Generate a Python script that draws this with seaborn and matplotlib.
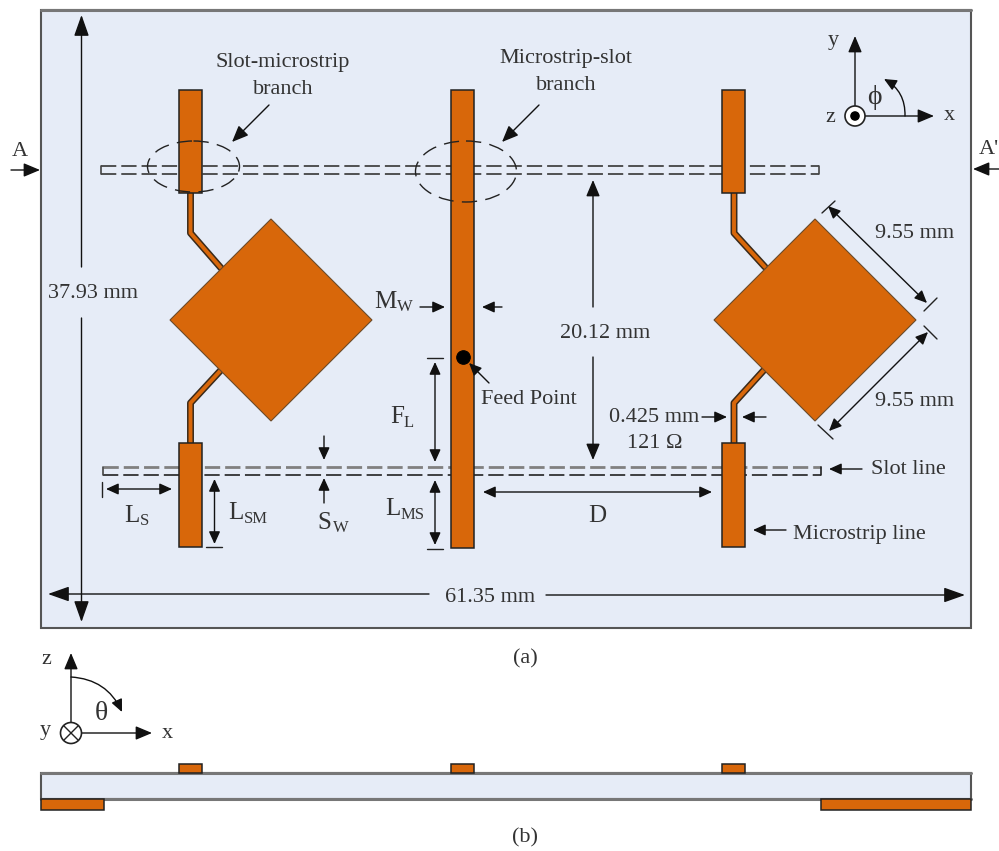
import matplotlib
matplotlib.use('Agg')
import matplotlib.pyplot as plt
from matplotlib.patches import Rectangle, Polygon, Ellipse, Circle, FancyArrowPatch
import seaborn as sns

sns.set_theme(style="white")
plt.rcParams['font.family'] = ['Liberation Serif', 'DejaVu Sans']

# all geometry below is in reference pixels
ORANGE = '#D8670A'
BOARD = '#E6ECF7'
INK = '#333333'

board_top = (41, 10, 930, 618)
board_side = (41, 773, 930, 26)
strips = [(179, 90, 22.5, 103), (179, 443, 22.5, 104), (451, 90, 23, 458),
          (722, 90, 23, 103), (722, 443, 23, 104)]
side_strips = [(179, 764, 23, 9), (451, 764, 23, 9), (722, 764, 23, 9),
               (41, 799, 63, 11), (821, 799, 150, 11)]
diamonds = [[(271, 219), (372, 320), (271, 421), (170, 320)],
            [(815, 219), (916, 320), (815, 421), (714, 320)]]
feeds = [([190.5, 190.5, 221], [193, 233, 268]), ([190.5, 190.5, 221], [443, 403, 370]),
         ([734, 734, 765], [193, 233, 267]), ([734, 734, 764], [443, 403, 370])]
ellipses = [(193.5, 166.5, 92, 51), (466, 171.5, 101, 61)]
upper_slot = ([101, 819], [165.5, 174])
lower_slot = ([103, 821], [466.5, 474.5])
feed_point = ([463], [357])

big_arrows = [((81.5, 267), (81.5, 15)), ((81.5, 318), (81.5, 622)),
              ((429, 594), (48, 594)), ((546, 595), (965, 595))]
mid_arrows = [((269, 105), (232, 142)), ((539, 105), (502, 142)),
              ((855, 115), (855, 36)), ((865, 116), (934, 116)),
              ((11, 170), (40, 170)), ((999, 169), (973, 169)),
              ((593, 307), (593, 180)), ((593, 357), (593, 460)),
              ((71, 722), (71, 653)), ((82, 733), (152, 733))]
small_arrows = [((420, 307), (445, 307)), ((502, 307), (482, 307)),
                ((324, 436), (324, 460)), ((324, 503), (324, 478)),
                ((489, 383), (469, 363)), ((702, 417), (727, 417)),
                ((766, 417), (742, 417)), ((862, 469), (829, 469)),
                ((786, 530), (753, 530))]
double_arrows = [((828, 206), (927, 303)), ((928, 332), (829, 431)),
                 ((435, 362), (435, 462)), ((435, 480), (435, 545)),
                 ((106, 489), (172, 489)), ((214.5, 479), (214.5, 544)),
                 ((483, 492), (712, 492))]
ticks = [((822, 213), (835, 201)), ((924, 311), (937, 298)), ((924, 326), (937, 339)),
         ((818, 425), (833, 439)), ((427, 358), (443, 358)), ((427, 549), (443, 549)),
         ((101.5, 482), (101.5, 497)), ((206, 547), (222, 547))]

labels = [("Slot-microstrip", 283, 63), ("branch", 283, 90), ("Microstrip-slot", 566, 58),
          ("branch", 566, 85), ("A", 20, 152), ("37.93 mm", 93, 293), ("y", 833, 40),
          ("z", 830, 118), ("x", 949, 115), ("9.55 mm", 915, 234),
          ("9.55 mm", 915, 401), ("20.12 mm", 605, 334), ("Feed Point", 529, 399),
          ("0.425 mm", 654, 417), ("121 \u03a9", 655, 443), ("Slot line", 908, 470),
          ("Microstrip line", 859, 534), ("61.35 mm", 490, 597), ("(a)", 525, 659),
          ("(b)", 525, 838), ("z", 46, 660), ("y", 45, 730), ("x", 167, 734)]
greek_labels = [("\u03d5", 874, 97), ("\u03b8", 101, 714)]
# name, left, baseline, subscript, left, baseline
sub_labels = [("M", 374, 308, "W", 397, 311), ("F", 390, 423, "L", 404, 427),
              ("L", 124, 522, "S", 140, 525), ("L", 228, 519, "SM", 244, 523),
              ("S", 317, 529, "W", 333, 532), ("L", 385, 515, "MS", 401, 519),
              ("D", 588, 522, "", 0, 0)]


def line(ax, xs, ys, color, width, **kw):
    sns.lineplot(x=xs, y=ys, ax=ax, color=color, linewidth=width, sort=False,
                 estimator=None, errorbar=None, legend=False, **kw)


def arrow(ax, p0, p1, head, style='-|>', width=1.0):
    s = f'{style},head_length={head[0]},head_width={head[1]}'
    ax.add_patch(FancyArrowPatch(p0, p1, arrowstyle=s, mutation_scale=1, shrinkA=0, shrinkB=0,
                                 color='#111111', linewidth=width, zorder=8))


def dashed(ax, xs, y, color, width):
    # dash pattern is scaled by line width, so divide to keep about 15px on, 5px off
    pattern = (0, (11 / width, 3.6 / width))
    line(ax, xs, [y, y], color, width, linestyle=pattern, zorder=2)


fig = plt.figure(figsize=(9.99, 8.51), dpi=100)
ax = fig.add_axes([0, 0, 1, 1])

for rect in (board_top, board_side):
    ax.add_patch(Rectangle(rect[:2], rect[2], rect[3], facecolor=BOARD, edgecolor='#555555', linewidth=1.5, zorder=1))
# top edges print a bit lighter and heavier
line(ax, [41, 971], [10, 10], '#777777', 2.2, zorder=2)
line(ax, [41, 971], [773, 773], '#777777', 2.2, zorder=2)
line(ax, [41, 971], [799, 799], '#777777', 2.2, zorder=2)

dashed(ax, upper_slot[0], upper_slot[1][0], '#444444', 1.3)
dashed(ax, upper_slot[0], upper_slot[1][1], '#444444', 1.3)
dashed(ax, lower_slot[0], lower_slot[1][0], '#808080', 2.0)
dashed(ax, lower_slot[0], lower_slot[1][1], '#222222', 1.2)
line(ax, [upper_slot[0][0]] * 2, upper_slot[1], '#444444', 1.2, zorder=2)
line(ax, [upper_slot[0][1]] * 2, upper_slot[1], '#444444', 1.2, zorder=2)
line(ax, [lower_slot[0][0]] * 2, lower_slot[1], '#444444', 1.2, zorder=2)
line(ax, [lower_slot[0][1]] * 2, lower_slot[1], '#222222', 1.2, zorder=2)

for xs, ys in feeds:
    line(ax, xs, ys, '#3a2a1a', 5.0, zorder=3, solid_joinstyle='round')
    line(ax, xs, ys, ORANGE, 2.8, zorder=3.1, solid_joinstyle='round')
for pts in diamonds:
    ax.add_patch(Polygon(pts, closed=True, facecolor=ORANGE, edgecolor='#6b4a2a', linewidth=0.8, zorder=4))
for x, y, w, h in strips + side_strips:
    ax.add_patch(Rectangle((x, y), w, h, facecolor=ORANGE, edgecolor='#222222', linewidth=1.1, zorder=5))

for x, y, w, h in ellipses:
    ax.add_patch(Ellipse((x, y), w, h, fill=False, edgecolor='#222222', linewidth=1.0,
                         linestyle=(0, (11, 6)), zorder=6))

sns.scatterplot(x=feed_point[0], y=feed_point[1], ax=ax, color='black', edgecolor='black',
                s=95, legend=False, zorder=9)

for p0, p1 in big_arrows:
    arrow(ax, p0, p1, (13, 4.6))
for p0, p1 in mid_arrows:
    arrow(ax, p0, p1, (10, 4.2))
for p0, p1 in small_arrows:
    arrow(ax, p0, p1, (7.5, 3.4))
for p0, p1 in double_arrows:
    arrow(ax, p0, p1, (7.5, 3.4), style='<|-|>')
for p0, p1 in ticks:
    line(ax, [p0[0], p1[0]], [p0[1], p1[1]], '#222222', 1.0, zorder=8)

# angle arcs
ax.add_patch(FancyArrowPatch((905, 116), (884, 79), connectionstyle='arc3,rad=0.3', mutation_scale=1,
                             arrowstyle='-|>,head_length=7.5,head_width=3.4', shrinkA=0, shrinkB=0,
                             color='#111111', linewidth=1.0, zorder=8))
ax.add_patch(FancyArrowPatch((71, 677), (122, 712), connectionstyle='arc3,rad=-0.3', mutation_scale=1,
                             arrowstyle='-|>,head_length=7.5,head_width=3.4', shrinkA=0, shrinkB=0,
                             color='#111111', linewidth=1.0, zorder=8))

# axis origins
ax.add_patch(Circle((855, 116), 10, facecolor='white', edgecolor='#222222', linewidth=1.2, zorder=9))
ax.add_patch(Circle((855, 116), 5.5, facecolor='black', zorder=10))
ax.add_patch(Circle((71, 733), 10.5, facecolor='white', edgecolor='#222222', linewidth=1.2, zorder=9))
line(ax, [63.6, 78.4], [725.6, 740.4], '#222222', 1.0, zorder=10)
line(ax, [63.6, 78.4], [740.4, 725.6], '#222222', 1.0, zorder=10)

for s, x, y in labels:
    ax.text(x, y, s, fontsize=16, color=INK, ha='center', va='center', zorder=11)
for s, x, y in greek_labels:
    ax.text(x, y, s, fontsize=20, color=INK, ha='center', va='center', zorder=11)
ax.text(979, 149, "A'", fontsize=16, color=INK, ha='left', va='center', zorder=11)
for main, x0, y0, sub, x1, y1 in sub_labels:
    ax.text(x0, y0, main, fontsize=18, color=INK, ha='left', va='baseline', zorder=11)
    if sub:
        ax.text(x1, y1, sub, fontsize=12, color=INK, ha='left', va='baseline', zorder=11)

ax.set_xlim(0, 999)
ax.set_ylim(851, 0)
ax.set_axis_off()

fig.savefig('out.png', dpi=100)
plt.close(fig)
